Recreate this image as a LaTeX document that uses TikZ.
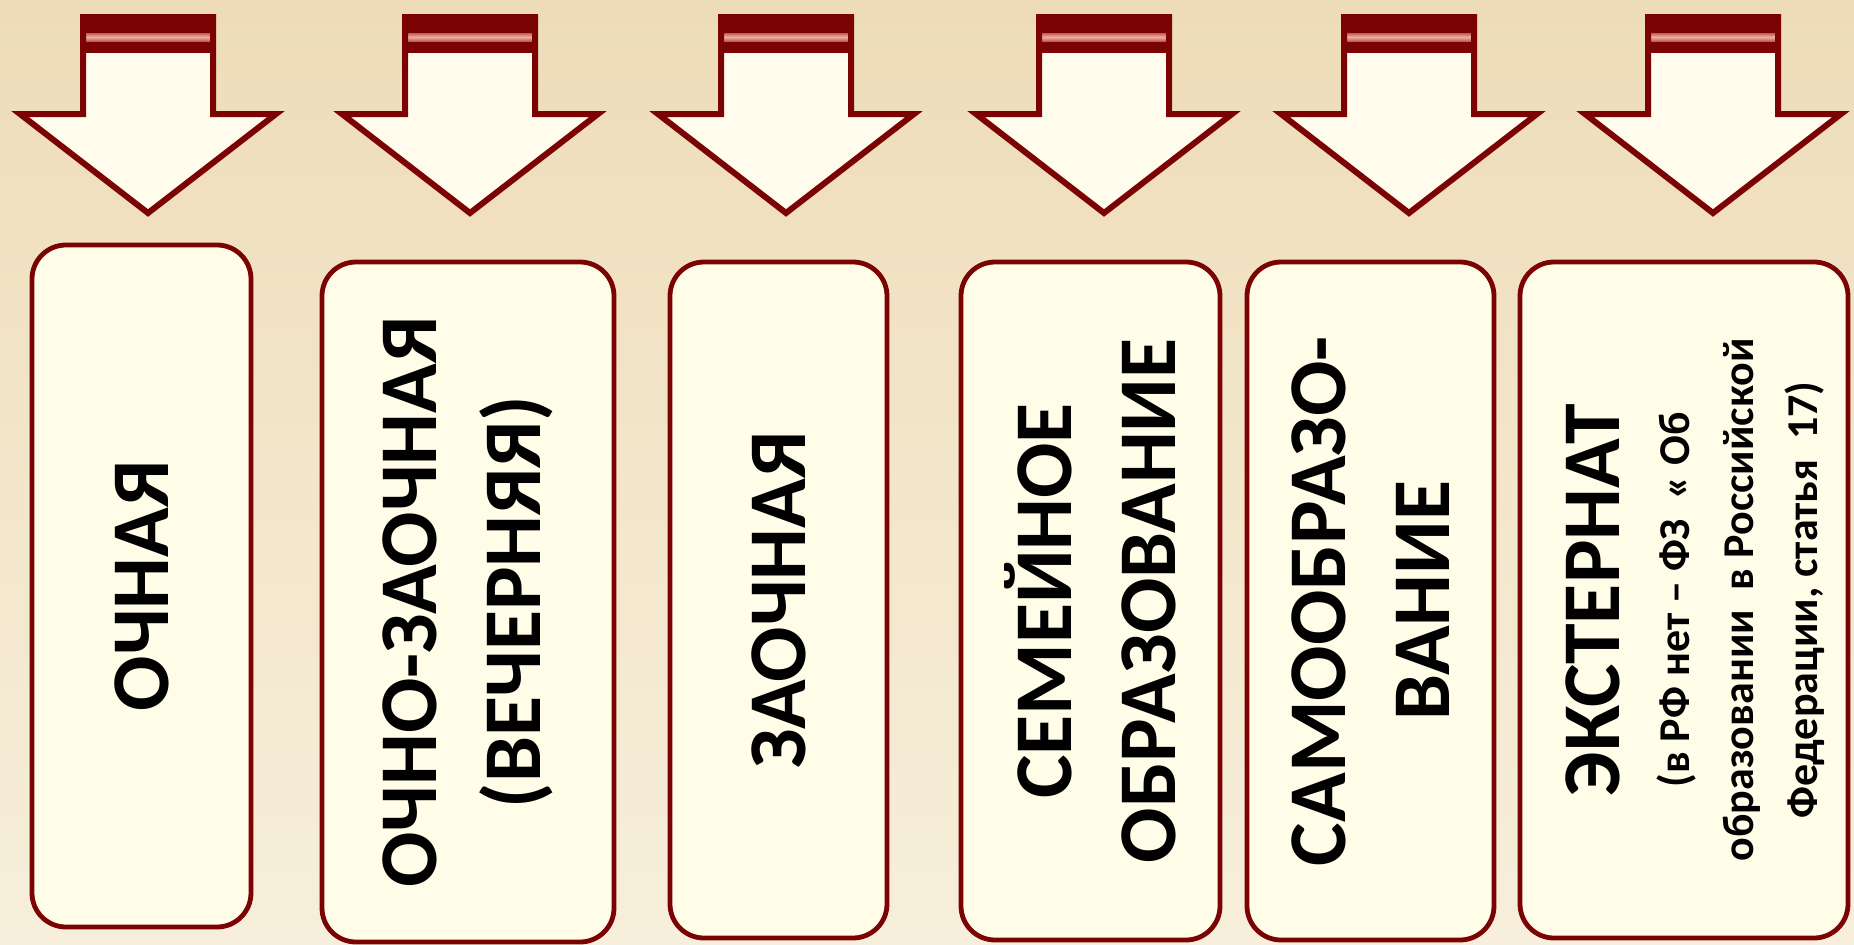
\documentclass[tikz,border=0pt]{standalone}
\usepackage{fontspec}
\setmainfont{Carlito}
\definecolor{bgtop}{HTML}{EEDCB8}
\definecolor{bgbot}{HTML}{F7EFDB}
\definecolor{dred}{HTML}{7C0303}
\definecolor{boxfill}{HTML}{FFFDE8}
\definecolor{arrfill}{HTML}{FFFCEE}
\definecolor{stripe}{HTML}{F2AC9E}
\tikzset{
  formbox/.style={draw=dred, line width=2.4pt, fill=boxfill, rounded corners=17pt, rotate=90, inner sep=0pt},
  downarrow/.style={draw=dred, line width=3pt, line join=miter},
  bigtext/.style={rotate=90, align=center, inner sep=0pt, font=\bfseries\fontsize{41}{52}\selectfont},
  smalltext/.style={rotate=90, align=center, inner sep=0pt, font=\bfseries\fontsize{22}{32}\selectfont},
}
\begin{document}
\begin{tikzpicture}[x=0.5pt,y=-0.5pt]
\useasboundingbox (0,0) rectangle (1854,944);
\shade[top color=bgtop, bottom color=bgbot] (0,0) rectangle (1854,944);
% block arrows
\foreach \t in {148,470,786,1104,1409,1713}{
  \fill[arrfill] (\t-65,17) -- (\t+65,17) -- (\t+65,114) -- (\t+128,114) -- (\t,213) -- (\t-128,114) -- (\t-65,114) -- cycle;
  \fill[dred] (\t-65,17) rectangle (\t+65,53);
  \shade[top color=stripe!55!dred, bottom color=stripe!55!dred, middle color=stripe] (\t-63,33) rectangle (\t+63,41);
  \draw[downarrow] (\t-65,17) -- (\t+65,17) -- (\t+65,114) -- (\t+128,114) -- (\t,213) -- (\t-128,114) -- (\t-65,114) -- cycle;
}
% boxes
\node[formbox, minimum width=341pt, minimum height=109.5pt] (b1) at (141.5,586) {};
\node[formbox, minimum width=340pt, minimum height=146pt] (b2) at (468,602) {};
\node[formbox, minimum width=338pt, minimum height=108.5pt] (b3) at (778.5,600) {};
\node[formbox, minimum width=339pt, minimum height=129.5pt] (b4) at (1090.5,601) {};
\node[formbox, minimum width=339pt, minimum height=123.5pt] (b5) at (1370.5,601) {};
\node[formbox, minimum width=338pt, minimum height=164pt] (b6) at (1684,600) {};
% texts
\node[bigtext] (t1) at (b1) {ОЧНАЯ};
\node[bigtext] (t2) at (b2) {ОЧНО-ЗАОЧНАЯ\\(ВЕЧЕРНЯЯ)};
\node[bigtext] (t3) at (b3) {ЗАОЧНАЯ};
\node[bigtext] (t4) at (b4) {СЕМЕЙНОЕ\\ОБРАЗОВАНИЕ};
\node[bigtext] (t5) at (b5) {САМООБРАЗО-\\ВАНИЕ};
\node[bigtext] (t6) at (1593,600) {ЭКСТЕРНАТ};
\node[smalltext] (t6s) at (1741,600) {(в РФ нет – ФЗ\ \ « Об\\образовании\ \ в Российской\\Федерации, статья\ \ 17)};
\end{tikzpicture}
\end{document}
